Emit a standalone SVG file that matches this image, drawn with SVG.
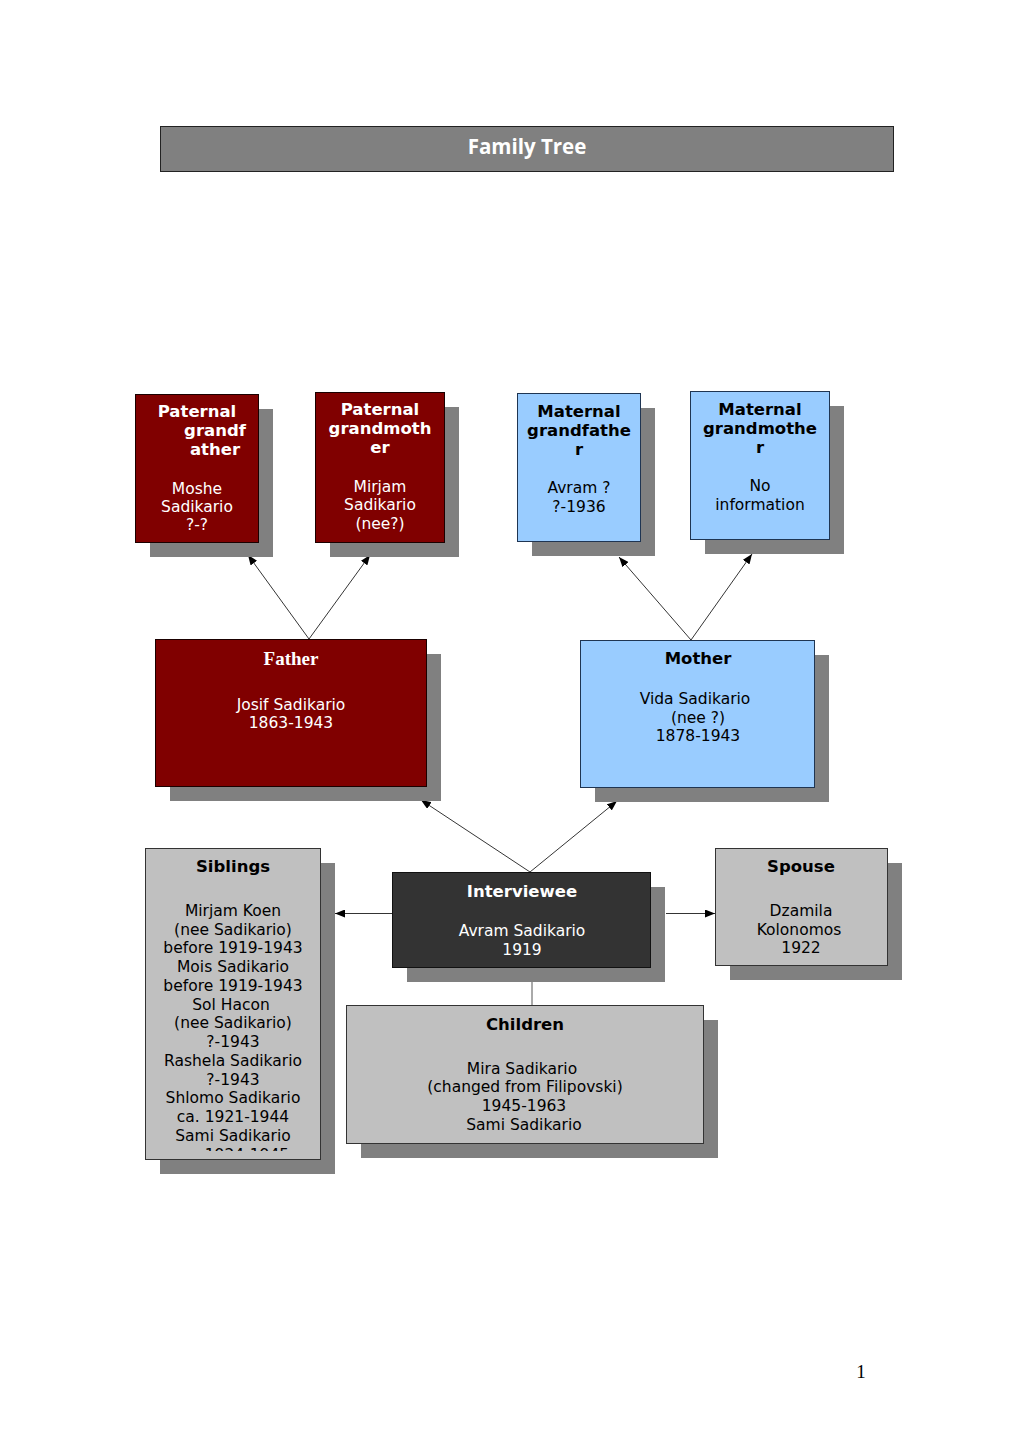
<svg xmlns="http://www.w3.org/2000/svg" width="1020" height="1443" viewBox="0 0 1020 1443">
<style>
.sh{fill:#808080;}
.red{fill:#800000;stroke:#1a0000;stroke-width:1;}
.blue{fill:#99ccff;stroke:#1f3552;stroke-width:1;}
.grey{fill:#c0c0c0;stroke:#333;stroke-width:1;}
.dark{fill:#333333;stroke:#111;stroke-width:1;}
text{font-family:"DejaVu Sans",Verdana,sans-serif;text-anchor:middle;}
.h{font-size:16.5px;font-weight:bold;}
.b{font-size:15.5px;}
.w{fill:#fff;}
.k{fill:#000;}
.con{stroke:#000;stroke-width:0.8;fill:none;}
</style>
<defs>
<marker id="ah" markerWidth="10" markerHeight="8" refX="10" refY="4" orient="auto" markerUnits="userSpaceOnUse">
<path d="M0,0 L10,4 L0,8 z" fill="#000"/>
</marker>
<clipPath id="clipSib"><rect x="145" y="848" width="176" height="303"/></clipPath>
<clipPath id="clipChi"><rect x="346" y="1005" width="358" height="132"/></clipPath>
</defs>
<rect width="1020" height="1443" fill="#fff"/>

<g id="title">
<rect x="160.5" y="126.5" width="733" height="45" fill="#808080" stroke="#222" stroke-width="1"/>
<text x="527" y="153.5" style="font-family:'Open Sans',sans-serif;font-size:20.5px;font-weight:bold;fill:#fff">Family Tree</text>
</g>

<g id="connectors">
<line class="con" x1="309" y1="639" x2="248" y2="555" marker-end="url(#ah)"/>
<line class="con" x1="309" y1="639" x2="370" y2="555" marker-end="url(#ah)"/>
<line class="con" x1="691" y1="640" x2="619" y2="557" marker-end="url(#ah)"/>
<line class="con" x1="691" y1="640" x2="752" y2="554" marker-end="url(#ah)"/>
<line class="con" x1="530" y1="872" x2="421" y2="800" marker-end="url(#ah)"/>
<line class="con" x1="530" y1="872" x2="617" y2="801" marker-end="url(#ah)"/>
<line class="con" x1="392" y1="913.5" x2="335" y2="913.5" stroke="#444" marker-end="url(#ah)"/>
<line class="con" x1="666" y1="913.5" x2="715" y2="913.5" stroke="#444" marker-end="url(#ah)"/>
<line x1="532" y1="982" x2="532" y2="1005" stroke="#555" stroke-width="1"/>
</g>

<g id="paternal-grandfather">
<rect class="sh" x="150" y="409" width="123" height="148"/>
<rect class="red" x="135.5" y="394.5" width="123" height="148"/>
<text class="h w" x="197" y="417">Paternal</text>
<text class="h w" x="215" y="436">grandf</text>
<text class="h w" x="215" y="455">ather</text>
<text class="b w" x="197" y="494">Moshe</text>
<text class="b w" x="197" y="512">Sadikario</text>
<text class="b w" x="197" y="530">?-?</text>
</g>

<g id="paternal-grandmother">
<rect class="sh" x="330" y="407" width="129" height="150"/>
<rect class="red" x="315.5" y="392.5" width="129" height="150"/>
<text class="h w" x="380" y="415">Paternal</text>
<text class="h w" x="380" y="434">grandmoth</text>
<text class="h w" x="380" y="453">er</text>
<text class="b w" x="380" y="492">Mirjam</text>
<text class="b w" x="380" y="510">Sadikario</text>
<text class="b w" x="380" y="529">(nee?)</text>
</g>

<g id="maternal-grandfather">
<rect class="sh" x="532" y="408" width="123" height="148"/>
<rect class="blue" x="517.5" y="393.5" width="123" height="148"/>
<text class="h k" x="579" y="417">Maternal</text>
<text class="h k" x="579" y="436">grandfathe</text>
<text class="h k" x="579" y="455">r</text>
<text class="b k" x="579" y="493">Avram ?</text>
<text class="b k" x="579" y="512">?-1936</text>
</g>

<g id="maternal-grandmother">
<rect class="sh" x="705" y="406" width="139" height="148"/>
<rect class="blue" x="690.5" y="391.5" width="139" height="148"/>
<text class="h k" x="760" y="415">Maternal</text>
<text class="h k" x="760" y="434">grandmothe</text>
<text class="h k" x="760" y="453">r</text>
<text class="b k" x="760" y="491">No</text>
<text class="b k" x="760" y="510">information</text>
</g>

<g id="father">
<rect class="sh" x="170" y="654" width="271" height="147"/>
<rect class="red" x="155.5" y="639.5" width="271" height="147"/>
<text x="291" y="665" style="font-family:'Liberation Serif','Times New Roman',serif;font-size:19px;font-weight:bold;fill:#fff">Father</text>
<text class="b w" x="291" y="710">Josif Sadikario</text>
<text class="b w" x="291" y="728">1863-1943</text>
</g>

<g id="mother">
<rect class="sh" x="595" y="655" width="234" height="147"/>
<rect class="blue" x="580.5" y="640.5" width="234" height="147"/>
<text class="h k" x="698" y="664">Mother</text>
<text class="b k" x="695" y="704">Vida Sadikario</text>
<text class="b k" x="698" y="723">(nee ?)</text>
<text class="b k" x="698" y="741">1878-1943</text>
</g>

<g id="interviewee">
<rect class="sh" x="407" y="887" width="258" height="95"/>
<rect class="dark" x="392.5" y="872.5" width="258" height="95"/>
<text class="h w" x="522" y="897">Interviewee</text>
<text class="b w" x="522" y="936">Avram Sadikario</text>
<text class="b w" x="522" y="955">1919</text>
</g>

<g id="siblings">
<rect class="sh" x="160" y="863" width="175" height="311"/>
<rect class="grey" x="145.5" y="848.5" width="175" height="311"/>
<text class="h k" x="233" y="872">Siblings</text>
<g clip-path="url(#clipSib)">
<text class="b k" x="233" y="916">Mirjam Koen</text>
<text class="b k" x="233" y="935">(nee Sadikario)</text>
<text class="b k" x="233" y="953">before 1919-1943</text>
<text class="b k" x="233" y="972">Mois Sadikario</text>
<text class="b k" x="233" y="991">before 1919-1943</text>
<text class="b k" x="231" y="1010">Sol Hacon</text>
<text class="b k" x="233" y="1028">(nee Sadikario)</text>
<text class="b k" x="233" y="1047">?-1943</text>
<text class="b k" x="233" y="1066">Rashela Sadikario</text>
<text class="b k" x="233" y="1085">?-1943</text>
<text class="b k" x="233" y="1103">Shlomo Sadikario</text>
<text class="b k" x="233" y="1122">ca. 1921-1944</text>
<text class="b k" x="233" y="1141">Sami Sadikario</text>
<text class="b k" x="233" y="1160">ca. 1924-1945</text>
</g>
</g>

<g id="spouse">
<rect class="sh" x="730" y="863" width="172" height="117"/>
<rect class="grey" x="715.5" y="848.5" width="172" height="117"/>
<text class="h k" x="801" y="872">Spouse</text>
<text class="b k" x="801" y="916">Dzamila</text>
<text class="b k" x="799" y="935">Kolonomos</text>
<text class="b k" x="801" y="953">1922</text>
</g>

<g id="children">
<rect class="sh" x="361" y="1020" width="357" height="138"/>
<rect class="grey" x="346.5" y="1005.5" width="357" height="138"/>
<text class="h k" x="525" y="1030">Children</text>
<g clip-path="url(#clipChi)">
<text class="b k" x="522" y="1074">Mira Sadikario</text>
<text class="b k" x="525" y="1092">(changed from Filipovski)</text>
<text class="b k" x="524" y="1111">1945-1963</text>
<text class="b k" x="524" y="1130">Sami Sadikario</text>
<text class="b k" x="524" y="1149">ca. 1950</text>
</g>
</g>

<text x="861" y="1378" style="font-family:'Liberation Serif',serif;font-size:19px;fill:#000">1</text>
</svg>
